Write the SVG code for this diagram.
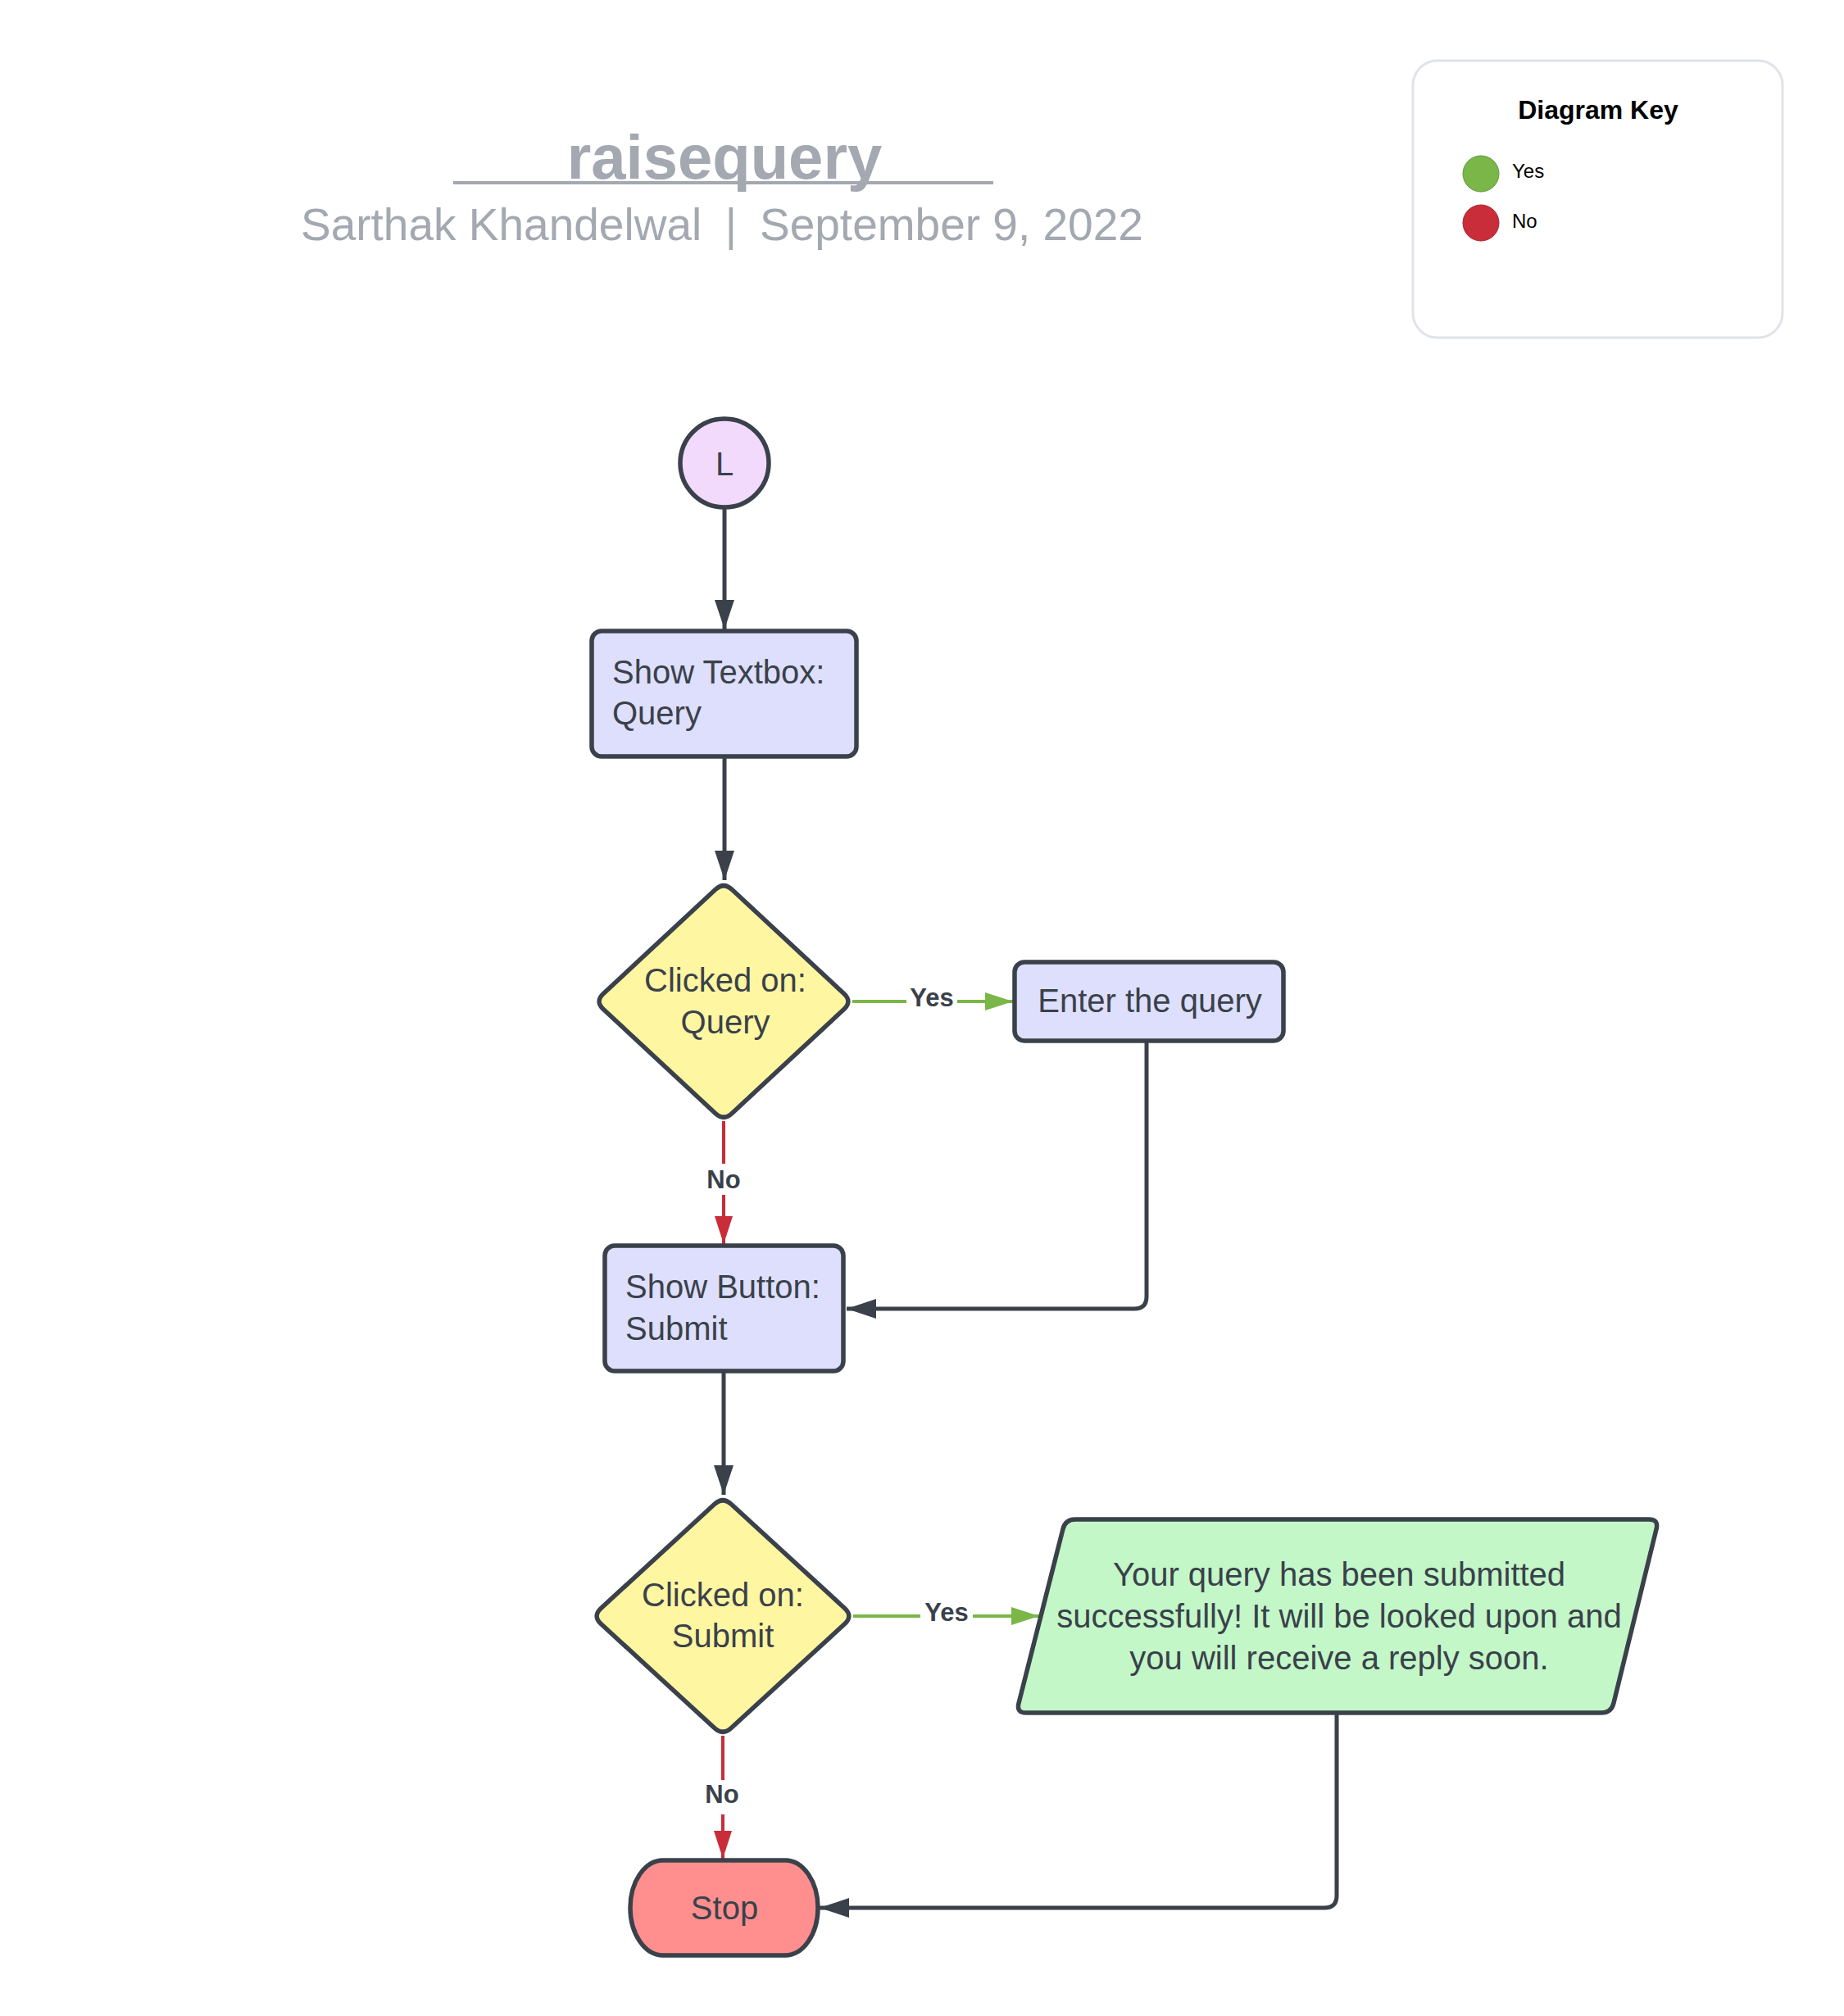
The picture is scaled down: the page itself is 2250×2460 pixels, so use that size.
<svg xmlns="http://www.w3.org/2000/svg" width="2250" height="2460" viewBox="0 0 2250 2460">
<style>
.node{stroke:#3a414a;stroke-width:5.5;stroke-linejoin:round}
.t{font-family:"Liberation Sans",Arial,sans-serif;font-size:40px;fill:#3a414a}
.c{text-anchor:middle}
.lbl{font-family:"Liberation Sans",Arial,sans-serif;font-size:31px;font-weight:bold;fill:#3a414a;text-anchor:middle}
.edge{fill:none;stroke:#3a414a;stroke-width:5;stroke-linejoin:round}
.yes{fill:none;stroke:#7ab648;stroke-width:4}
.no{fill:none;stroke:#c92d39;stroke-width:4}
.hdr{font-family:"Liberation Sans",Arial,sans-serif;fill:#a3a8b1}
.key{font-family:"Liberation Sans",Arial,sans-serif;fill:#000}
</style>
<defs>
<marker id="aD" markerUnits="userSpaceOnUse" markerWidth="36" markerHeight="24" refX="36" refY="12" orient="auto"><path d="M0,0 L36,12 L0,24 z" fill="#3a414a"/></marker>
<marker id="aG" markerUnits="userSpaceOnUse" markerWidth="34" markerHeight="22" refX="34" refY="11" orient="auto"><path d="M0,0 L34,11 L0,22 z" fill="#7ab648"/></marker>
<marker id="aR" markerUnits="userSpaceOnUse" markerWidth="34" markerHeight="22" refX="34" refY="11" orient="auto"><path d="M0,0 L34,11 L0,22 z" fill="#c92d39"/></marker>
</defs>
<rect width="2250" height="2460" fill="#fff"/>

<g id="header">
<text class="hdr" x="884" y="218" font-size="76" font-weight="bold" text-anchor="middle">raisequery</text>
<line x1="553" y1="223" x2="1212" y2="223" stroke="#a3a8b1" stroke-width="4"/>
<text class="hdr" x="367" y="293" font-size="55">Sarthak Khandelwal</text>
<text class="hdr" x="892" y="293" font-size="55" text-anchor="middle">|</text>
<text class="hdr" x="927" y="293" font-size="55">September 9, 2022</text>
</g>

<g id="legend">
<rect x="1724" y="74" width="451" height="338" rx="30" fill="#fff" stroke="#e0e3e8" stroke-width="3"/>
<text class="key" x="1950" y="145" font-size="32" font-weight="bold" text-anchor="middle">Diagram Key</text>
<circle cx="1807" cy="212" r="22" fill="#7ab648" stroke="#5f9a3a" stroke-width="1"/>
<text class="key" x="1845" y="217" font-size="24">Yes</text>
<circle cx="1807" cy="272" r="22" fill="#c92d39" stroke="#a8252f" stroke-width="1"/>
<text class="key" x="1845" y="278" font-size="24">No</text>
</g>

<g id="connectors">
<path class="edge" d="M884 621 V768" marker-end="url(#aD)"/>
<path class="edge" d="M884 923 V1074" marker-end="url(#aD)"/>
<path class="yes" d="M1040 1222 H1236" marker-end="url(#aG)"/>
<rect x="1106" y="1200" width="62" height="34" fill="#fff"/>
<text class="lbl" x="1137" y="1228">Yes</text>
<path class="no" d="M883 1368 V1518" marker-end="url(#aR)"/>
<rect x="857" y="1420" width="52" height="38" fill="#fff"/>
<text class="lbl" x="883" y="1450">No</text>
<path class="edge" d="M1399 1270 V1582 Q1399 1597 1384 1597 H1033" marker-end="url(#aD)"/>
<path class="edge" d="M883 1673 V1824" marker-end="url(#aD)"/>
<path class="yes" d="M1041 1972 H1268" marker-end="url(#aG)"/>
<rect x="1123" y="1950" width="64" height="34" fill="#fff"/>
<text class="lbl" x="1155" y="1978">Yes</text>
<path class="no" d="M882 2118 V2268" marker-end="url(#aR)"/>
<rect x="856" y="2172" width="52" height="42" fill="#fff"/>
<text class="lbl" x="881" y="2200">No</text>
<path class="edge" d="M1631 2090 V2313 Q1631 2328 1616 2328 H1000" marker-end="url(#aD)"/>
</g>

<g id="start">
<circle class="node" cx="884" cy="565" r="54" fill="#f2dafc"/>
<text class="t c" x="884" y="580">L</text>
</g>

<g id="show-textbox">
<rect class="node" x="722" y="770" width="323" height="153" rx="12" fill="#dedffc"/>
<text class="t" x="747" y="834">Show Textbox:</text>
<text class="t" x="747" y="884">Query</text>
</g>

<g id="clicked-query">
<path class="node" fill="#fff6a1" d="M872.8 1085.5 Q883 1076 893.2 1085.5 L1029.8 1212.5 Q1040 1222 1029.8 1231.5 L893.2 1358.5 Q883 1368 872.8 1358.5 L736.2 1231.5 Q726 1222 736.2 1212.5 Z"/>
<text class="t c" x="885" y="1210">Clicked on:</text>
<text class="t c" x="885" y="1261">Query</text>
</g>

<g id="enter-query">
<rect class="node" x="1238" y="1174" width="328" height="96" rx="12" fill="#dedffc"/>
<text class="t c" x="1403" y="1235">Enter the query</text>
</g>

<g id="show-button">
<rect class="node" x="738" y="1520" width="291" height="153" rx="12" fill="#dedffc"/>
<text class="t" x="763" y="1584">Show Button:</text>
<text class="t" x="763" y="1635">Submit</text>
</g>

<g id="clicked-submit">
<path class="node" fill="#fff6a1" d="M871.7 1835.5 Q882 1826 892.3 1835.5 L1030.7 1962.5 Q1041 1972 1030.7 1981.5 L892.3 2108.5 Q882 2118 871.7 2108.5 L733.3 1981.5 Q723 1972 733.3 1962.5 Z"/>
<text class="t c" x="882" y="1960">Clicked on:</text>
<text class="t c" x="882" y="2010">Submit</text>
</g>

<g id="submitted">
<path class="node" fill="#c3f7c8" d="M1312 1854 H2012 Q2024 1854 2021.1 1865.7 L1968.9 2078.3 Q1966 2090 1954 2090 H1252 Q1240 2090 1243 2078.4 L1297 1865.6 Q1300 1854 1312 1854 Z"/>
<text class="t c" x="1634" y="1935">Your query has been submitted</text>
<text class="t c" x="1634" y="1986">successfully! It will be looked upon and</text>
<text class="t c" x="1634" y="2037">you will receive a reply soon.</text>
</g>

<g id="stop">
<path class="node" fill="#ff8f8f" d="M809 2270 H958 A40 58 0 0 1 998 2328 A40 58 0 0 1 958 2386 H809 A40 58 0 0 1 769 2328 A40 58 0 0 1 809 2270 Z"/>
<text class="t c" x="884" y="2342">Stop</text>
</g>
</svg>
